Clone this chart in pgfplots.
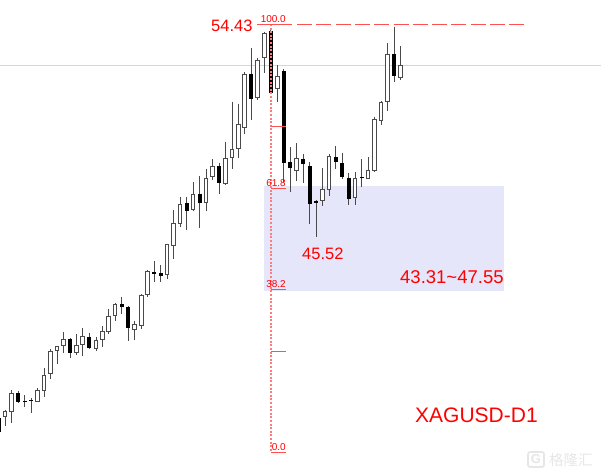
\documentclass[border=0pt]{standalone}
\usepackage{fontspec}
\setmainfont{Liberation Sans}
\newfontfamily\cjk{Noto Sans CJK SC}
\usepackage{pgfplots}
\usepackage{pgfplotstable}
\pgfplotsset{compat=1.18}
\definecolor{fibred}{HTML}{FF5050}
\definecolor{fibdot}{HTML}{FF7C7C}
\definecolor{zone}{HTML}{E6E6FA}
\definecolor{edgegray}{HTML}{4A4A4A}
\definecolor{wm}{HTML}{E6E6E6}
% positions are in image pixels (y downwards): x hi lo top bot
\pgfplotstableread{
x hi lo top bot
5 410 426 411 417
11.7 390 423 393.3 412.3
37.3 388 402 390 401.7
44 368 397 375 390.7
50.3 349 379 351 374.3
57 345.7 364.3 346.3 350.7
63.3 332.3 353.3 339.3 346.3
76.3 334.3 355 345 352.7
82.7 327.7 356 335.7 345.3
96 336.7 351.3 340 349
102.3 326 346.7 331 340.3
108.7 309.3 334.3 315.7 331.7
115 302.7 321 304 316
134.7 320.7 340 324.3 330
141.3 294.3 329.3 295 325.7
147.7 270 296.7 271 295
167 243.7 279 244.3 275.3
173.7 210 258.7 223.3 245.7
180 197.3 227.3 204 224
193 182 211 194.3 210.3
206 169.3 211 178.3 202.7
212.3 159 180 166.3 176.7
225.7 141.7 185 158 184
232 101.7 169.3 149 157.7
238.3 104 158.3 124 149
244.7 71.7 134.3 74 128.3
257.7 57.7 100 60 97.7
264.3 31.7 73.3 33.3 57.7
277.3 65 101.7 76 89.3
296.7 143.3 180.7 158 170.7
322.7 167.7 206.3 188.7 201
329 154.3 196.3 156 189.7
355 172 205.3 178.3 198.3
368 157.3 179 170.3 178.7
374.3 116.7 171.7 119 170.7
381 101 125 102 121
387.3 43.3 110.7 53.7 102.3
400.3 46 80 65 77.7
}\whitecandles
\pgfplotstableread{
x hi lo top bot
-1 414 440 418 432
18 390.7 402.7 393.3 402
24.7 395 407 401 402.3
31 398 413 400 401
70 338 358.3 339.3 352.7
89.3 332.7 349.3 336.7 348
121.7 297.3 314.3 304 307
128.3 306 341 306.7 328.3
154 261.3 282.3 272.3 273.5
160.7 265.3 281.7 272.7 275.7
186.7 197.3 230.3 203.3 211
199.7 176.3 228 194.3 203
219 162.7 194 166 182.7
251.3 47.7 120 74.3 99
270.7 30 93.5 30.7 92.7
283.7 69 181.7 71 163.3
290 147.3 192.3 162 168.3
303 154.3 182.7 158.7 163.7
309.7 162 224.3 166 204.3
316 200 236.7 201.3 203
335.7 145.7 169.3 157 162.3
342 152.7 178.7 163.3 177
348.7 173.3 205.3 178.3 198.7
361.7 159.3 186.7 177 178.3
394 26.7 82.3 54.3 76
}\blackcandles
\pgfplotsset{candlebar/.style 2 args={draw=none, no markers, forget plot,
  error bars/.cd, y dir=plus, y explicit, error mark=none,
  error bar style={draw=#1, line width=#2, solid}}}
\begin{document}
\begin{tikzpicture}
\useasboundingbox (0,0) rectangle (601pt,475pt);
\begin{axis}[scale only axis, width=601pt, height=475pt, at={(0,0)}, anchor=south west,
  xmin=0, xmax=601, ymin=0, ymax=475, y dir=reverse, hide axis, axis on top=false]
\addplot[draw=none, fill=zone, forget plot] coordinates {(264,186) (504,186) (504,291) (264,291)} -- cycle;
\addplot[color=black!16, line width=1pt] coordinates {(0,65) (601,65)};
% wicks
\addplot[candlebar={edgegray}{1pt}] table[x=x, y=hi, y error expr=\thisrow{lo}-\thisrow{hi}] {\whitecandles};
\addplot[candlebar={edgegray}{1pt}] table[x=x, y=hi, y error expr=\thisrow{lo}-\thisrow{hi}] {\blackcandles};
% bodies
\addplot[candlebar={edgegray}{4.6pt}] table[x=x, y=top, y error expr=\thisrow{bot}-\thisrow{top}] {\whitecandles};
\addplot[candlebar={white}{2.6pt}] table[x=x, y expr=\thisrow{top}+1, y error expr=\thisrow{bot}-\thisrow{top}-2] {\whitecandles};
\addplot[candlebar={black}{4.3pt}] table[x=x, y=top, y error expr=\thisrow{bot}-\thisrow{top}] {\blackcandles};
% fibonacci tool
\addplot[fibdot, line width=1.5pt, dash pattern=on 2pt off 1.6pt] coordinates {(271,24) (271,452)};
\addplot[fibred, line width=1pt] coordinates {(257,24) (292,24)};
\addplot[fibred, line width=1pt, dash pattern=on 15pt off 4.3pt] coordinates {(297,24) (524,24)};
\addplot[fibred, line width=1pt] coordinates {(271,126) (286,126)};
\addplot[fibred, line width=1pt] coordinates {(271,188) (286,188)};
\addplot[fibred, line width=1pt] coordinates {(271,289.5) (286,289.5)};
\addplot[fibred, line width=1pt] coordinates {(271,351) (286,351)};
\addplot[fibred, line width=1pt] coordinates {(271,452) (286,452)};
\begin{scope}[every node/.style={inner sep=0pt, text=red, font=\fontsize{10}{11}\selectfont}]
\node[anchor=east] at (axis cs:286,19.5) {100.0};
\node[anchor=east] at (axis cs:286,183) {61.8};
\node[anchor=east] at (axis cs:286,284.5) {38.2};
\node[anchor=east] at (axis cs:286,447) {0.0};
\end{scope}
\begin{scope}[every node/.style={inner sep=0pt, text=red, anchor=west}]
\node[font=\fontsize{16.5}{18}\selectfont] at (axis cs:211,26) {54.43};
\node[font=\fontsize{16.5}{18}\selectfont] at (axis cs:302,254) {45.52};
\node[font=\fontsize{18.5}{20}\selectfont] at (axis cs:400,277) {43.31\char`\~47.55};
\node[font=\fontsize{21}{23}\selectfont] at (axis cs:415,415) {XAGUSD-D1};
\end{scope}
% watermark
\draw[wm, line width=1.6pt, rounded corners=2pt] (axis cs:528,452) rectangle (axis cs:544,467);
\node[inner sep=0pt, text=wm, font=\fontsize{13}{14}\selectfont\bfseries] at (axis cs:536,459.5) {G};
\node[inner sep=0pt, anchor=west, text=wm, font=\cjk\fontsize{14.5}{16}\selectfont] at (axis cs:549,459.5) {格隆汇};
\end{axis}
\end{tikzpicture}
\end{document}
